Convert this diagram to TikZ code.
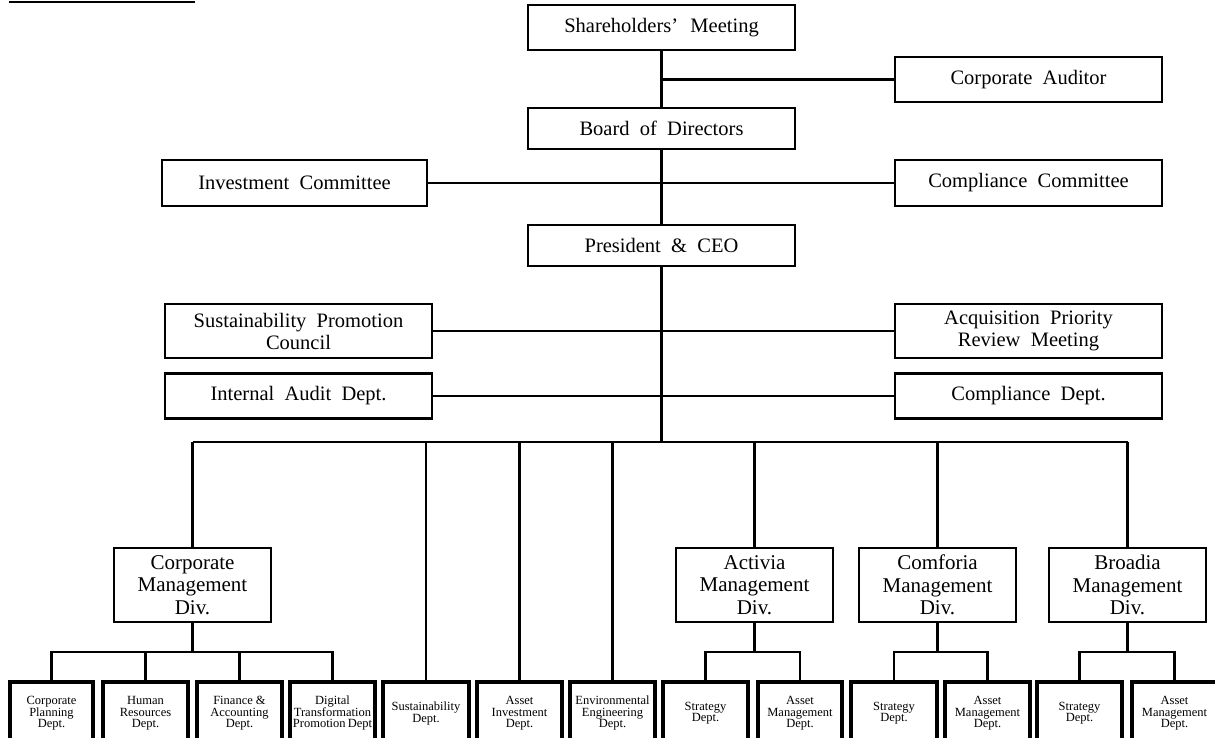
\documentclass[tikz,border=0pt]{standalone}
\usepackage{fontspec}
\setmainfont{Liberation Serif}
\newcommand{\widesp}{\spaceskip=0.5em\relax}
\begin{document}
\begin{tikzpicture}[x=1pt,y=-1pt,
  mainbox/.style={draw,line width=2.4pt,inner sep=0pt,align=center,
    font=\fontsize{20.5}{22}\selectfont,execute at begin node=\widesp},
  divbox/.style={draw,line width=2.4pt,inner sep=0pt,align=center,
    minimum width=157pt,minimum height=74pt,
    font=\fontsize{21}{22.5}\selectfont},
  deptbox/.style={draw,line width=3.2pt,inner sep=0pt,align=center,
    minimum height=60pt,text depth=0pt,
    font=\fontsize{12.5}{11.6}\selectfont},
  conn/.style={line width=2.4pt},
]
\useasboundingbox (0,0) rectangle (1215,738);
\clip (0,0) rectangle (1215,738);

\draw[line width=2pt] (9,2) -- (195,2);

% upper boxes
\node[mainbox,minimum width=267pt,minimum height=45pt] (sh) at (661.5,27.5) {Shareholders’\hspace{0.6em}Meeting};
\node[mainbox,minimum width=267pt,minimum height=45pt] (aud) at (1028.5,79.5) {Corporate Auditor};
\node[mainbox,minimum width=267pt,minimum height=41pt] (bod) at (661.5,128.5) {Board of Directors};
\node[mainbox,minimum width=265pt,minimum height=46pt] (inv) at (294.5,183) {Investment Committee};
\node[mainbox,minimum width=267pt,minimum height=46pt] (cc) at (1028.5,183) {Compliance Committee};
\node[mainbox,minimum width=267pt,minimum height=41pt] (pres) at (661.5,245.5) {President \& CEO};
\node[mainbox,minimum width=267pt,minimum height=54pt] (spc) at (298.5,331) {Sustainability Promotion\\Council};
\node[mainbox,minimum width=267pt,minimum height=54pt] (apr) at (1028.5,331) {Acquisition Priority\\Review Meeting};
\node[mainbox,minimum width=267pt,minimum height=45pt] (iad) at (298.5,396) {Internal Audit Dept.};
\node[mainbox,minimum width=267pt,minimum height=45pt] (cd) at (1028.5,396) {Compliance Dept.};

\coordinate (bus) at (661.5,442);

% divisions
\node[divbox] (cmd) at (192.5,585) {Corporate\\Management\\Div.};
\node[divbox] (act) at (754.5,585) {Activia\\Management\\Div.};
\node[divbox] (com) at (937.5,585) {Comforia\\Management\\Div.};
\node[divbox] (brd) at (1127.5,585) {Broadia\\Management\\Div.};

% departments
\node[deptbox,minimum width=83pt] (b1) at (51.5,712) {Corporate\\Planning\\Dept.};
\node[deptbox,minimum width=85pt] (b2) at (145.5,712) {Human\\Resources\\Dept.};
\node[deptbox,minimum width=85pt] (b3) at (239.5,712) {Finance \&\\Accounting\\Dept.};
\node[deptbox,minimum width=85pt] (b4) at (332.5,712) {Digital\\Transformation\\Promotion\,Dept};
\node[deptbox,minimum width=86pt] (b5) at (426,712) {Sustainability\\Dept.};
\node[deptbox,minimum width=85pt] (b6) at (519.5,712) {Asset\\Investment\\Dept.};
\node[deptbox,minimum width=85pt] (b7) at (612.5,712) {Environmental\\Engineering\\Dept.};
\node[deptbox,minimum width=85pt] (b8) at (705.5,712) {Strategy\\Dept.};
\node[deptbox,minimum width=84pt] (b9) at (800,712) {Asset\\Management\\Dept.};
\node[deptbox,minimum width=86pt] (b10) at (894,712) {Strategy\\Dept.};
\node[deptbox,minimum width=85pt] (b11) at (987.5,712) {Asset\\Management\\Dept.};
\node[deptbox,minimum width=85pt] (b12) at (1079.5,712) {Strategy\\Dept.};
\node[deptbox,minimum width=85pt] (b13) at (1174.5,712) {Asset\\Management\\Dept.};

% main spine
\draw[conn] (sh.south) -- (bod.north);
\draw[conn] (sh.south |- aud.west) -- (aud.west);
\draw[conn] (inv.east) -- (cc.west);
\draw[conn] (bod.south) -- (pres.north);
\draw[conn] (pres.south) -- (bus);
\draw[conn] (spc.east) -- (apr.west);
\draw[conn] (iad.east) -- (cd.west);

% bus
\draw[conn] (cmd.north |- bus) -- (brd.north |- bus);
\draw[conn] (cmd.north |- bus) -- (cmd.north);
\draw[conn] (b5.north |- bus) -- (b5.north);
\draw[conn] (b6.north |- bus) -- (b6.north);
\draw[conn] (b7.north |- bus) -- (b7.north);
\draw[conn] (act.north |- bus) -- (act.north);
\draw[conn] (com.north |- bus) -- (com.north);
\draw[conn] (brd.north |- bus) -- (brd.north);

% sub buses
\coordinate (sb) at (0,652);
\draw[conn] (cmd.south) -- (cmd.south |- sb);
\draw[conn] (b1.north) -- (b1.north |- sb) -- (b4.north |- sb) -- (b4.north);
\draw[conn] (b2.north) -- (b2.north |- sb);
\draw[conn] (b3.north) -- (b3.north |- sb);

\draw[conn] (act.south) -- (act.south |- sb);
\draw[conn] (b8.north) -- (b8.north |- sb) -- (b9.north |- sb) -- (b9.north);
\draw[conn] (com.south) -- (com.south |- sb);
\draw[conn] (b10.north) -- (b10.north |- sb) -- (b11.north |- sb) -- (b11.north);
\draw[conn] (brd.south) -- (brd.south |- sb);
\draw[conn] (b12.north) -- (b12.north |- sb) -- (b13.north |- sb) -- (b13.north);
\end{tikzpicture}
\end{document}
